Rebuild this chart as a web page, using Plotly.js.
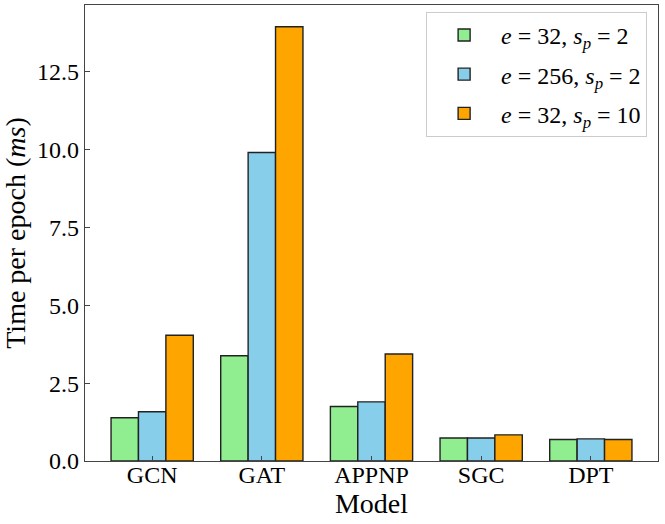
<!DOCTYPE html>
<html>
<head>
<meta charset="utf-8">
<script src="https://cdn.plot.ly/plotly-3.0.1.min.js"></script>
<style>
  html, body { margin: 0; padding: 0; background: #fff; }
  #chart { width: 665px; height: 524px; }
</style>
</head>
<body>
<div id="chart"></div>
<script>
var models = ['GCN', 'GAT', 'APPNP', 'SGC', 'DPT'];
var e32_sp2 = [1.39, 3.38, 1.75, 0.74, 0.69];
var e256_sp2 = [1.58, 9.91, 1.90, 0.74, 0.71];
var e32_sp10 = [4.04, 13.95, 3.44, 0.84, 0.69];
var yTicks = [0, 2.5, 5, 7.5, 10, 12.5];

var edge = {color: '#222', width: 1.4};

var data = [
  {
    x: models, y: e32_sp2, type: 'bar', legendgroup: 'a',
    name: '<i>e</i> = 32, <i>s<sub>p</sub></i> = 2',
    marker: {color: '#90ee90', line: edge}
  },
  {
    x: models, y: e256_sp2, type: 'bar', legendgroup: 'b',
    name: '<i>e</i> = 256, <i>s<sub>p</sub></i> = 2',
    marker: {color: '#87ceeb', line: edge}
  },
  {
    x: models, y: e32_sp10, type: 'bar', legendgroup: 'c',
    name: '<i>e</i> = 32, <i>s<sub>p</sub></i> = 10',
    marker: {color: '#ffa500', line: edge}
  }
];

var layout = {
  width: 665, height: 524,
  margin: {t: 5, b: 63, l: 85, r: 7},
  paper_bgcolor: '#fff',
  plot_bgcolor: '#fff',
  font: {family: 'Liberation Serif, Times New Roman, serif', size: 24, color: '#000'},
  barmode: 'group',
  bargap: 0.25,
  bargroupgap: 0,
  showlegend: true,
  legend: {
    x: 0.981, y: 0.985, xanchor: 'right', yanchor: 'top',
    bgcolor: '#fff', bordercolor: '#ccc', borderwidth: 1,
    font: {size: 24},
    itemwidth: 64,
    tracegroupgap: 5
  },
  xaxis: {
    range: [-0.6125, 4.6125],
    showline: true, mirror: true, linecolor: '#444', linewidth: 1.3,
    ticks: 'inside', ticklen: 5, tickcolor: '#444',
    ticklabelstandoff: -8,
    showgrid: false, zeroline: false,
    title: {text: 'Model', font: {size: 28}, standoff: 2}
  },
  yaxis: {
    range: [0, 14.65],
    tickvals: yTicks, tickformat: '.1f',
    showline: true, mirror: true, linecolor: '#444', linewidth: 1.3,
    ticks: 'inside', ticklen: 5, tickcolor: '#444',
    showgrid: false, zeroline: false,
    title: {text: 'Time per epoch (<i>ms</i>)', font: {size: 28}, standoff: 4}
  }
};

Plotly.newPlot('chart', data, layout, {displayModeBar: false});
</script>
</body>
</html>
